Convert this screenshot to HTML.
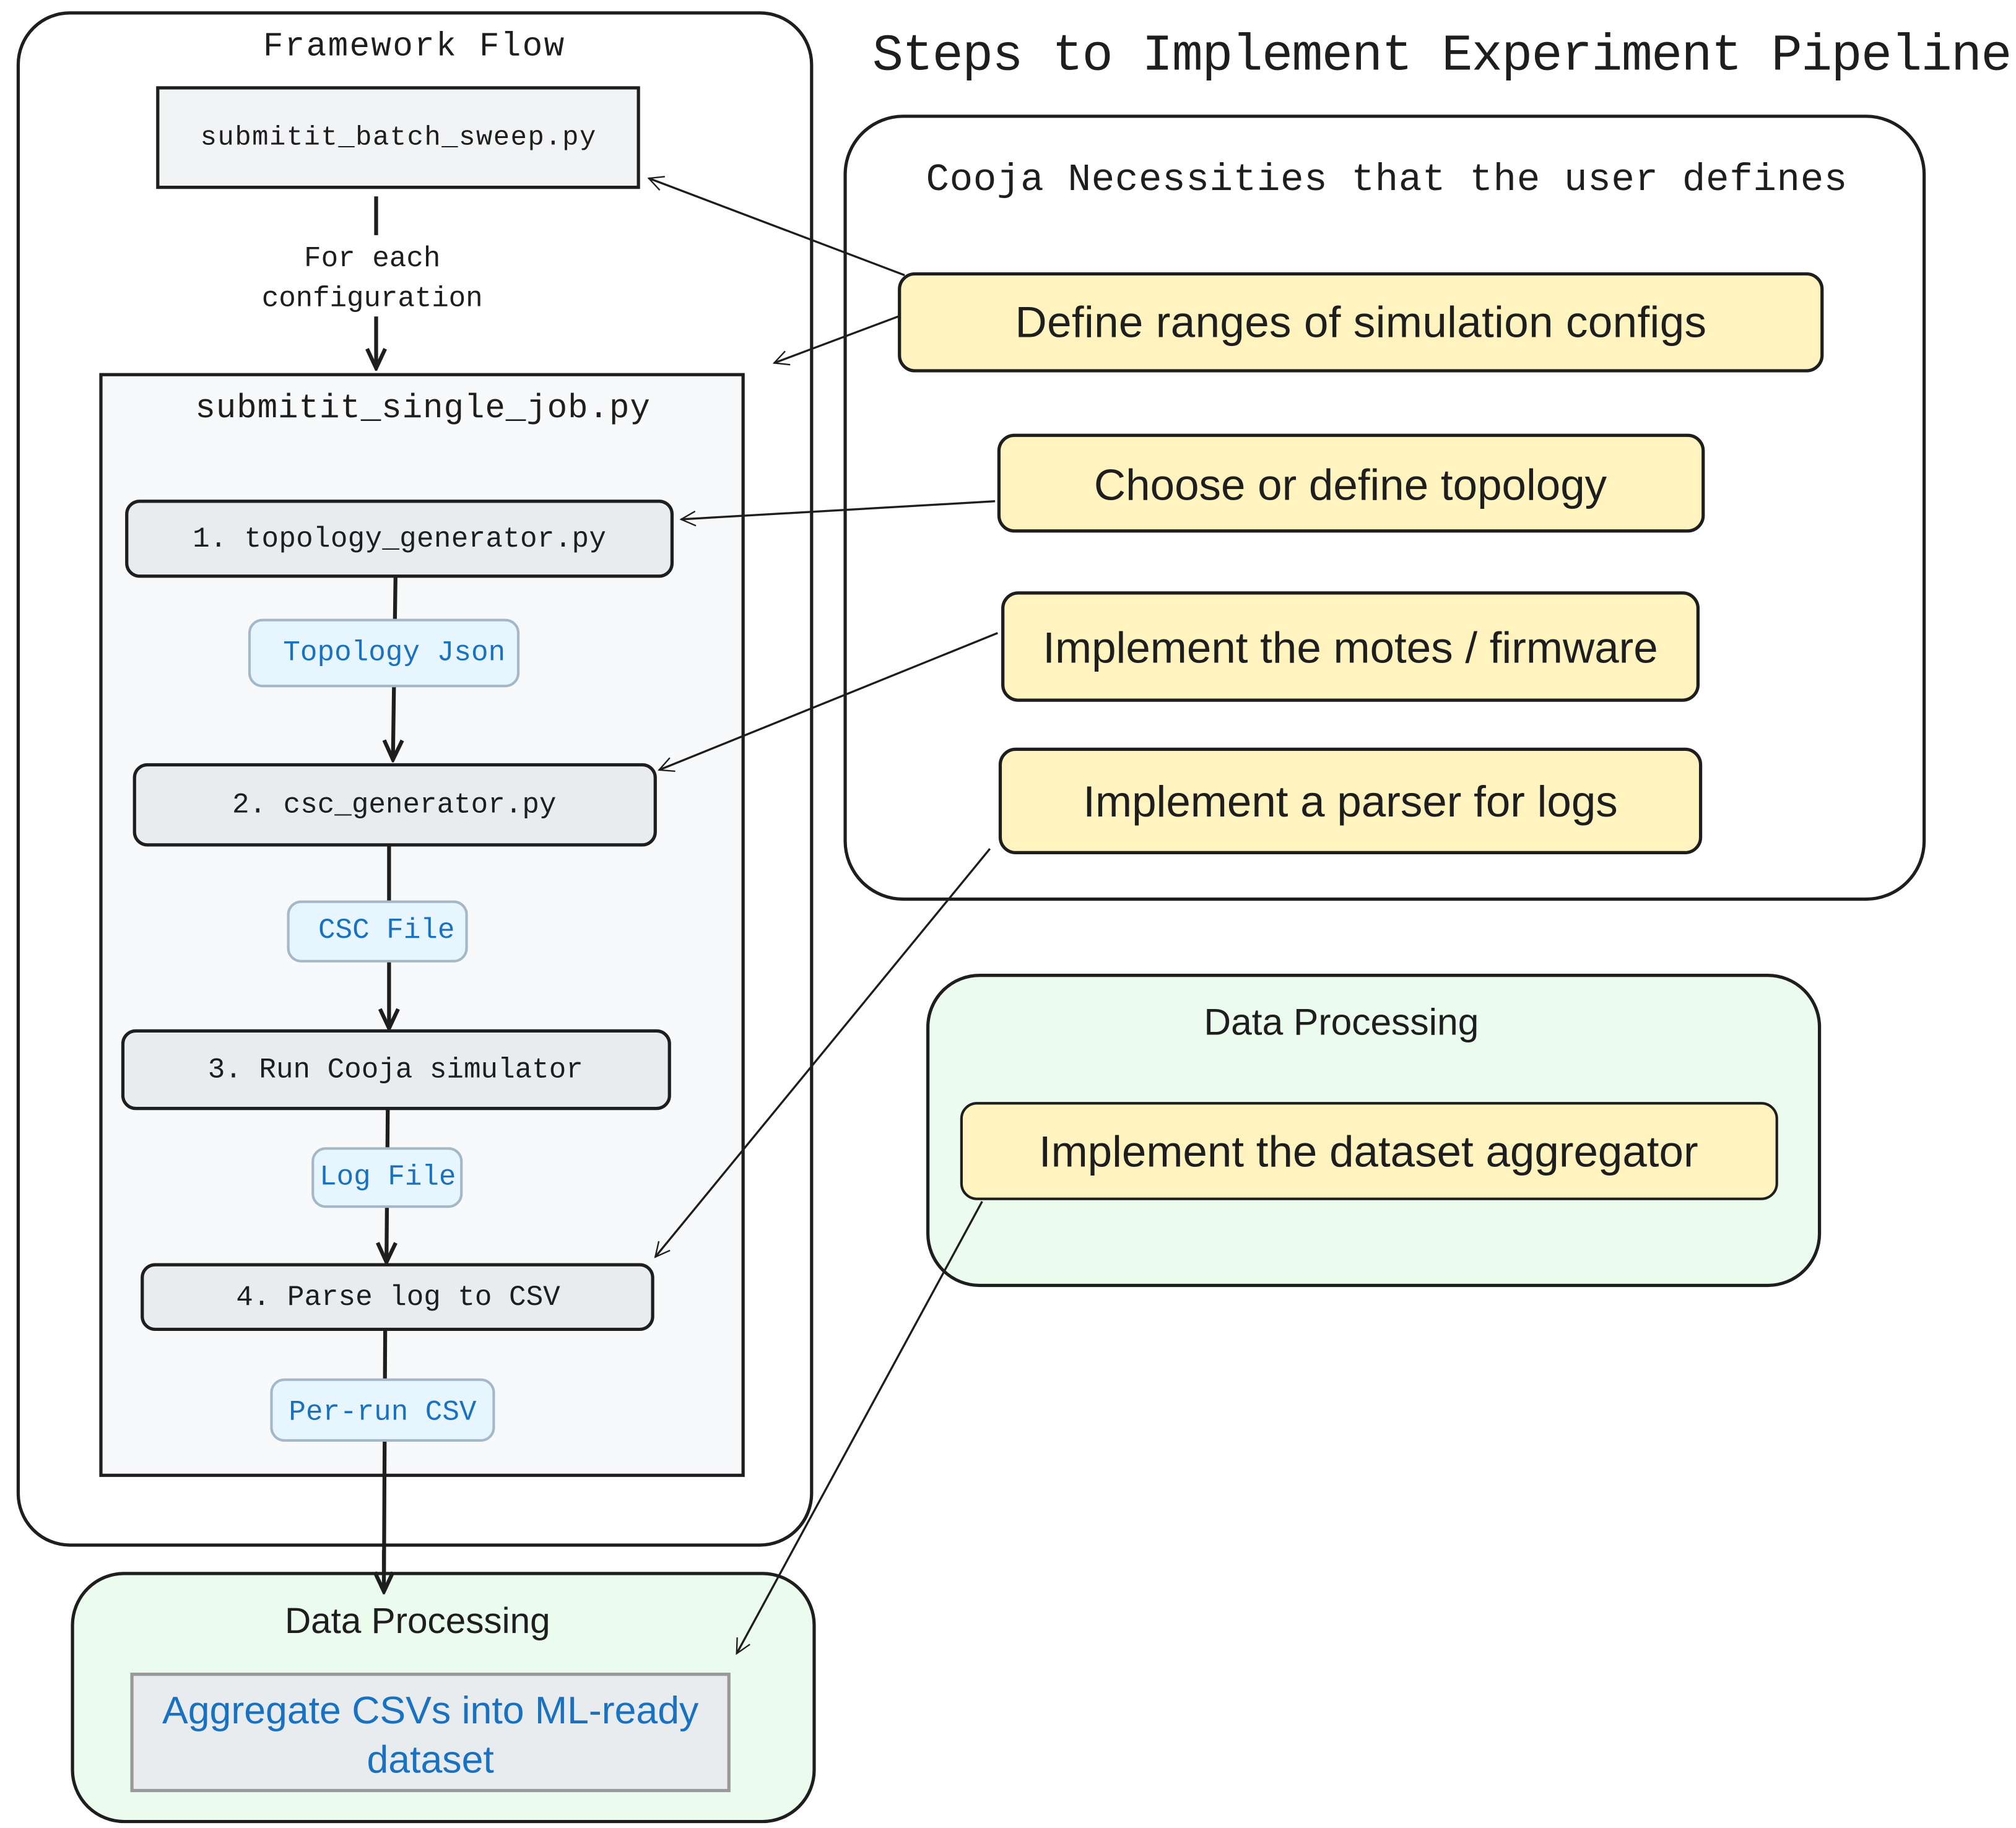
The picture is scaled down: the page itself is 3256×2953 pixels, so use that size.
<!DOCTYPE html>
<html><head><meta charset="utf-8"><style>
html,body{margin:0;padding:0;background:#fff;}
svg{display:block;}
.m{font-family:"Liberation Mono",monospace;fill:#1e1e1e;}
.s{font-family:"Liberation Sans",sans-serif;fill:#1e1e1e;}
</style></head><body>
<svg width="3256" height="2953" viewBox="0 0 1560 1415" xmlns="http://www.w3.org/2000/svg">
<defs>
<marker id="ah" viewBox="0 0 20 20" refX="18" refY="10" markerWidth="14" markerHeight="14" orient="auto" markerUnits="userSpaceOnUse">
<path d="M2 2 L18 10 L2 18" fill="none" stroke="#1e1e1e" stroke-width="1.6"/></marker>
<marker id="ahb" viewBox="0 0 20 20" refX="18" refY="10" markerWidth="20" markerHeight="20" orient="auto" markerUnits="userSpaceOnUse">
<path d="M3 3 L18 10 L3 17" fill="none" stroke="#1e1e1e" stroke-width="3"/></marker>
</defs>
<rect x="14" y="10" width="614" height="1186" rx="40" fill="#fff" stroke="#1e1e1e" stroke-width="2.5"/>
<text x="320" y="43" class="m" font-size="26" text-anchor="middle" textLength="233">Framework Flow</text>
<rect x="122" y="68" width="372" height="77" fill="#f1f3f5" stroke="#1e1e1e" stroke-width="2.5"/>
<text x="308" y="112" class="m" font-size="21" text-anchor="middle" textLength="306">submitit_batch_sweep.py</text>
<line x1="291" y1="152" x2="291" y2="182" stroke="#1e1e1e" stroke-width="3"/>
<text x="288" y="206" class="m" font-size="22" text-anchor="middle">For each</text>
<text x="288" y="237" class="m" font-size="22" text-anchor="middle" textLength="171">configuration</text>
<line x1="291" y1="245" x2="291" y2="285" stroke="#1e1e1e" stroke-width="3" marker-end="url(#ahb)"/>
<rect x="78" y="290" width="497" height="852" fill="#f8f9fa" stroke="#1e1e1e" stroke-width="2.5"/>
<text x="327" y="323" class="m" font-size="26" text-anchor="middle" textLength="352">submitit_single_job.py</text>
<line x1="306" y1="446" x2="304" y2="588" stroke="#1e1e1e" stroke-width="3" marker-end="url(#ahb)"/>
<line x1="301" y1="654" x2="301" y2="796" stroke="#1e1e1e" stroke-width="3" marker-end="url(#ahb)"/>
<line x1="300" y1="858" x2="299" y2="977" stroke="#1e1e1e" stroke-width="3" marker-end="url(#ahb)"/>
<line x1="298" y1="1029" x2="297" y2="1232" stroke="#1e1e1e" stroke-width="3" marker-end="url(#ahb)"/>
<rect x="98" y="388" width="422" height="58" rx="10" fill="#e9ecef" stroke="#1e1e1e" stroke-width="2.5"/>
<text x="309" y="423" class="m" font-size="22" text-anchor="middle" textLength="320">1. topology_generator.py</text>
<rect x="193" y="480" width="208" height="51" rx="10" fill="#e7f5ff" stroke="#a5b8c8" stroke-width="2"/>
<text x="305" y="511" class="m" font-size="22" text-anchor="middle" textLength="172" style="fill:#1971c2">Topology Json</text>
<rect x="104" y="592" width="403" height="62" rx="10" fill="#e9ecef" stroke="#1e1e1e" stroke-width="2.5"/>
<text x="305" y="629" class="m" font-size="22" text-anchor="middle">2. csc_generator.py</text>
<rect x="223" y="698" width="138" height="46" rx="10" fill="#e7f5ff" stroke="#a5b8c8" stroke-width="2"/>
<text x="299" y="726" class="m" font-size="22" text-anchor="middle" style="fill:#1971c2">CSC File</text>
<rect x="95" y="798" width="423" height="60" rx="10" fill="#e9ecef" stroke="#1e1e1e" stroke-width="2.5"/>
<text x="306" y="834" class="m" font-size="22" text-anchor="middle">3. Run Cooja simulator</text>
<rect x="242" y="889" width="115" height="45" rx="10" fill="#e7f5ff" stroke="#a5b8c8" stroke-width="2"/>
<text x="300" y="917" class="m" font-size="22" text-anchor="middle" style="fill:#1971c2">Log File</text>
<rect x="110" y="979" width="395" height="50" rx="10" fill="#e9ecef" stroke="#1e1e1e" stroke-width="2.5"/>
<text x="308" y="1010" class="m" font-size="22" text-anchor="middle">4. Parse log to CSV</text>
<rect x="210" y="1068" width="172" height="47" rx="10" fill="#e7f5ff" stroke="#a5b8c8" stroke-width="2"/>
<text x="296" y="1099" class="m" font-size="22" text-anchor="middle" style="fill:#1971c2">Per-run CSV</text>
<rect x="56" y="1218" width="574" height="192" rx="40" fill="#ebfbee" stroke="#1e1e1e" stroke-width="2.5"/>
<line x1="297" y1="1200" x2="297" y2="1232" stroke="#1e1e1e" stroke-width="3" marker-end="url(#ahb)"/>
<text x="323" y="1264" class="s" font-size="28" text-anchor="middle">Data Processing</text>
<rect x="102" y="1296" width="462" height="90" fill="#e9ecef" stroke="#999" stroke-width="2.5"/>
<text x="333" y="1334" class="s" font-size="30" text-anchor="middle" style="fill:#1971c2">Aggregate CSVs into ML-ready</text>
<text x="333" y="1372" class="s" font-size="30" text-anchor="middle" style="fill:#1971c2">dataset</text>
<text x="675" y="54" class="m" font-size="40" textLength="882">Steps to Implement Experiment Pipeline</text>
<rect x="654" y="90" width="835" height="606" rx="45" fill="#fff" stroke="#1e1e1e" stroke-width="2.5"/>
<text x="1073" y="147" class="m" font-size="30" text-anchor="middle" textLength="713">Cooja Necessities that the user defines</text>
<rect x="696" y="212" width="714" height="75" rx="12" fill="#fff3bf" stroke="#1e1e1e" stroke-width="2.5"/>
<text x="1053" y="261" class="s" font-size="34" text-anchor="middle" textLength="535">Define ranges of simulation configs</text>
<rect x="773" y="337" width="545" height="74" rx="12" fill="#fff3bf" stroke="#1e1e1e" stroke-width="2.5"/>
<text x="1045" y="387" class="s" font-size="34" text-anchor="middle">Choose or define topology</text>
<rect x="776" y="459" width="538" height="83" rx="12" fill="#fff3bf" stroke="#1e1e1e" stroke-width="2.5"/>
<text x="1045" y="513" class="s" font-size="34" text-anchor="middle">Implement the motes / firmware</text>
<rect x="774" y="580" width="542" height="80" rx="12" fill="#fff3bf" stroke="#1e1e1e" stroke-width="2.5"/>
<text x="1045" y="632" class="s" font-size="34" text-anchor="middle">Implement a parser for logs</text>
<rect x="718" y="755" width="690" height="240" rx="40" fill="#ebfbee" stroke="#1e1e1e" stroke-width="2.5"/>
<text x="1038" y="801" class="s" font-size="29" text-anchor="middle">Data Processing</text>
<rect x="744" y="854" width="631" height="74" rx="12" fill="#fff3bf" stroke="#1e1e1e" stroke-width="2"/>
<text x="1059" y="903" class="s" font-size="34" text-anchor="middle">Implement the dataset aggregator</text>
<g stroke="#1e1e1e" stroke-width="1.6" fill="none">
<line x1="700" y1="213" x2="502" y2="138" marker-end="url(#ah)"/>
<line x1="695" y1="245" x2="599" y2="281" marker-end="url(#ah)"/>
<line x1="770" y1="388" x2="527" y2="402" marker-end="url(#ah)"/>
<line x1="772" y1="490" x2="510" y2="596" marker-end="url(#ah)"/>
<line x1="766" y1="657" x2="507" y2="973" marker-end="url(#ah)"/>
<line x1="760" y1="930" x2="570" y2="1280" marker-end="url(#ah)"/>
</g>
</svg>
</body></html>
